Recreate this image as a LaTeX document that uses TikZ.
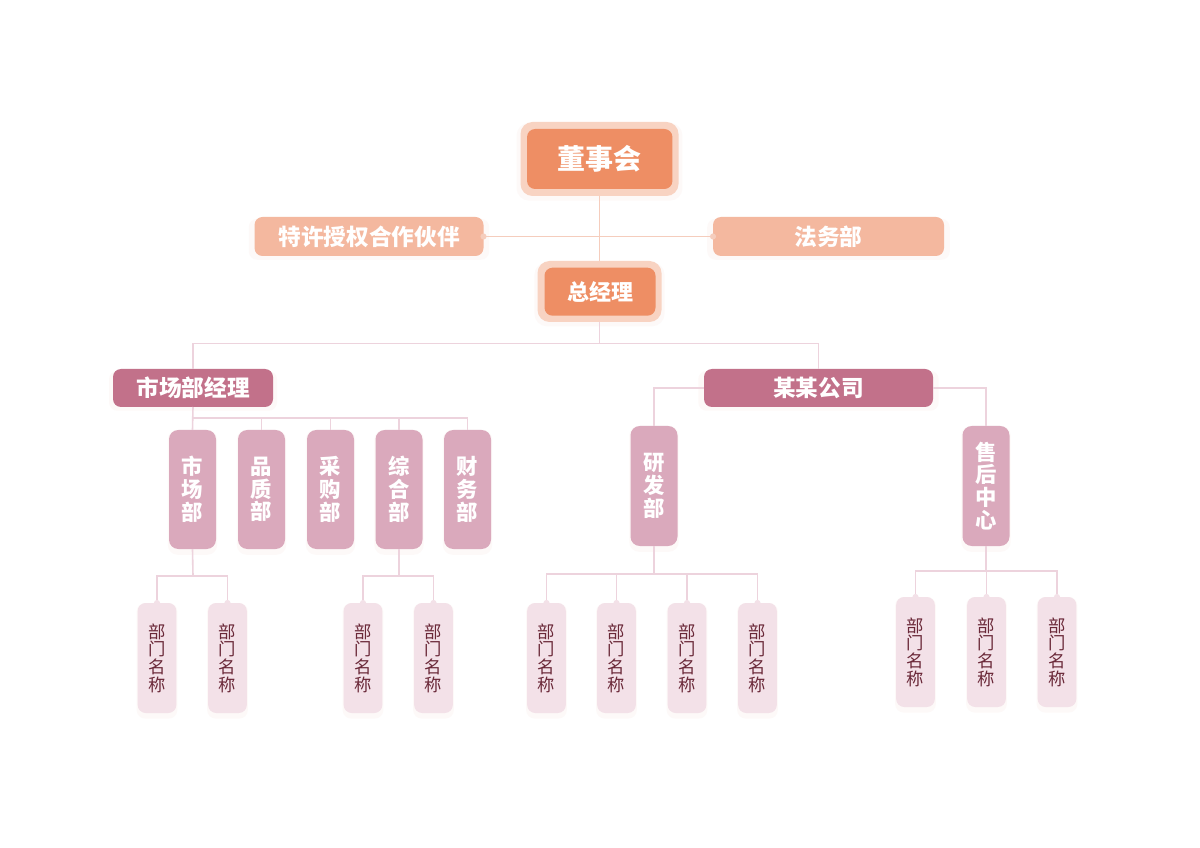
\documentclass[tikz,border=0pt]{standalone}
\usepackage{fontspec}
\setmainfont{Noto Sans CJK SC}
\usetikzlibrary{shadows}
\definecolor{orangeA}{HTML}{EE8E64}
\definecolor{ringA}{HTML}{F8D3C2}
\definecolor{peach}{HTML}{F4B89F}
\definecolor{roseA}{HTML}{C2718A}
\definecolor{roseB}{HTML}{DAA9BC}
\definecolor{roseC}{HTML}{F3E1E8}
\definecolor{lineA}{HTML}{F5CDBD}
\definecolor{lineB}{HTML}{EDD3DD}
\definecolor{leaftext}{HTML}{6A2838}
\definecolor{shade}{HTML}{F0C8C0}
\begin{document}
\begin{tikzpicture}[x=0.75pt,y=-0.75pt,
  box/.style={rectangle, inner sep=0pt, outer sep=0pt, align=center,
    drop shadow={shadow xshift=0pt, shadow yshift=-2pt, opacity=0.10, fill=shade, shadow scale=1.05}},
  ringbox/.style={box, fill=ringA, rounded corners=9pt},
  topbox/.style={rectangle, inner sep=0pt, outer sep=0pt, align=center, fill=orangeA, rounded corners=6pt,
    text=white, font=\bfseries},
  sidebox/.style={box, fill=peach, rounded corners=6pt, text=white,
    font=\bfseries\fontsize{17}{19}\selectfont, minimum height=29.25pt},
  mgrbox/.style={box, fill=roseA, rounded corners=6pt, text=white,
    font=\bfseries\fontsize{17}{19}\selectfont, minimum height=28.5pt},
  deptbox/.style={box, fill=roseB, rounded corners=7pt, text=white,
    font=\bfseries\fontsize{16}{17.1}\selectfont, minimum width=35.25pt},
  leafbox/.style={box, fill=roseC, rounded corners=6pt, text=leaftext,
    font=\fontsize{13}{13.2}\selectfont, minimum width=29pt, minimum height=82.5pt},
  conA/.style={draw=lineA, line width=1.2pt},
  conB/.style={draw=lineB, line width=1.2pt},
]
\useasboundingbox[fill=white] (0,0) rectangle (1200,848);

% ---- top level ----
\node[ringbox, minimum width=118.5pt, minimum height=55.5pt] (dshR) at (599.5,159) {};
\node[topbox, minimum width=109pt, minimum height=45pt, font=\bfseries\fontsize{21}{23}\selectfont] (dsh) at (599.75,159) {董事会};

\node[sidebox, minimum width=171.75pt] (tx) at (369,236.5) {特许授权合作伙伴};
\node[sidebox, minimum width=173.25pt] (fw) at (828.5,236.5) {法务部};

\node[ringbox, minimum width=93pt, minimum height=45.75pt] (zjlR) at (599.5,291.5) {};
\node[topbox, minimum width=83.25pt, minimum height=36pt, font=\bfseries\fontsize{16.5}{18}\selectfont] (zjl) at (600,291.7) {总经理};

% ---- managers ----
\node[mgrbox, minimum width=120pt] (scjl) at (193,388) {市场部经理};
\node[mgrbox, minimum width=171.75pt] (mmgs) at (818.5,388) {某某公司};

% ---- departments ----
\node[deptbox, minimum height=89.25pt] (d1) at (192.5,489.5) {市\\场\\部};
\node[deptbox, minimum height=89.25pt] (d2) at (261.5,489.5) {品\\质\\部};
\node[deptbox, minimum height=89.25pt] (d3) at (330.5,489.5) {采\\购\\部};
\node[deptbox, minimum height=89.25pt] (d4) at (399,489.5) {综\\合\\部};
\node[deptbox, minimum height=89.25pt] (d5) at (467.5,489.5) {财\\务\\部};
\node[deptbox, minimum height=90pt] (d6) at (654,486) {研\\发\\部};
\node[deptbox, minimum height=90pt] (d7) at (986,486) {售\\后\\中\\心};

% ---- leaves ----
\node[leafbox] (l1) at (157,658) {部\\门\\名\\称};
\node[leafbox] (l2) at (227.5,658) {部\\门\\名\\称};
\node[leafbox] (l3) at (363,658) {部\\门\\名\\称};
\node[leafbox] (l4) at (433.5,658) {部\\门\\名\\称};
\node[leafbox] (l5) at (546.5,658) {部\\门\\名\\称};
\node[leafbox] (l6) at (616.5,658) {部\\门\\名\\称};
\node[leafbox] (l7) at (687,658) {部\\门\\名\\称};
\node[leafbox] (l8) at (757.5,658) {部\\门\\名\\称};
\node[leafbox] (l9) at (915.5,652) {部\\门\\名\\称};
\node[leafbox] (l10) at (986.5,652) {部\\门\\名\\称};
\node[leafbox] (l11) at (1057,652) {部\\门\\名\\称};

% ---- bus coordinates ----
\coordinate (bus1) at (599.5,343.5);
\coordinate (bus2) at (193,418);
\coordinate (bus3) at (193,576);
\coordinate (bus4) at (399,576);
\coordinate (bus5) at (654,574);
\coordinate (bus6) at (986,571);

% ---- connectors ----
\draw[conA] (dshR.south) -- (zjlR.north);
\draw[conA] (tx.east) -- (fw.west);
\fill[lineA] (tx.east) circle (2.3pt);
\fill[lineA] (fw.west) circle (2.3pt);

\draw[conB] (zjlR.south) -- (bus1) -| (scjl.north);
\draw[conB] (bus1) -| (mmgs.north);

\draw[conB] (scjl.south) -- (d1.north);
\foreach \d in {d2,d3,d4,d5} \draw[conB] (bus2) -| (\d.north);

\draw[conB] (d1.south) -- (bus3);
\foreach \l in {l1,l2} \draw[conB] (bus3) -| (\l.north);
\draw[conB] (d4.south) -- (bus4);
\foreach \l in {l3,l4} \draw[conB] (bus4) -| (\l.north);

\draw[conB] (mmgs.west) -| (d6.north);
\draw[conB] (mmgs.east) -| (d7.north);

\draw[conB] (d6.south) -- (bus5);
\foreach \l in {l5,l6,l7,l8} \draw[conB] (bus5) -| (\l.north);
\draw[conB] (d7.south) -- (bus6);
\foreach \l in {l9,l10,l11} \draw[conB] (bus6) -| (\l.north);

\foreach \l in {l1,l2,l3,l4,l5,l6,l7,l8,l9,l10,l11} \fill[roseC] (\l.north) circle (2.3pt);
\end{tikzpicture}
\end{document}
